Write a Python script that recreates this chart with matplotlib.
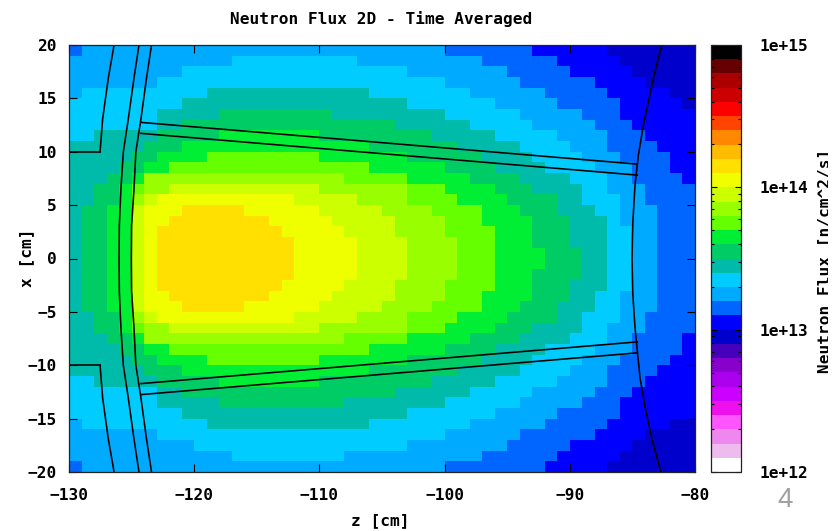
import numpy as np
import matplotlib
matplotlib.use("Agg")
import matplotlib.pyplot as plt
from matplotlib.colors import ListedColormap, LogNorm
from matplotlib.ticker import FixedLocator, LogLocator, NullFormatter
from matplotlib.transforms import Bbox

W, H = 838, 531
FONT = "DejaVu Sans Mono"
FS = 11.65

# --- colour bands, bottom (1e12) to top (1e15), 10 per decade ---
band_colors = [
    "#ffffff", "#eebbee", "#ee88ee", "#ff55ff", "#ee11ee", "#cc00ff", "#aa00ee", "#8800cc", "#4400bb", "#0000cc",
    "#0000ff", "#0066ff", "#00aaff", "#00ccff", "#00bbaa", "#00cc66", "#00ee33", "#66ff00", "#99ff00", "#ccff00",
    "#f0ff00", "#ffe000", "#ffbb00", "#ff8800", "#ff4400", "#ff0000", "#cc0000", "#aa0000", "#660000", "#000000",
]

# --- flux bands per row, x = 20 down to 0: (band, end column), 1 column = 1 cm in z ---
upper_runs = [
    [(11, 1), (12, 30), (11, 37), (10, 43), (9, 50)],
    [(12, 13), (13, 23), (12, 33), (11, 39), (10, 44), (9, 50)],
    [(12, 9), (13, 27), (12, 35), (11, 40), (10, 45), (9, 50)],
    [(12, 7), (13, 30), (12, 36), (11, 42), (10, 46), (9, 50)],
    [(12, 1), (13, 11), (14, 24), (13, 32), (12, 38), (11, 43), (10, 48), (9, 50)],
    [(13, 9), (14, 27), (13, 34), (12, 39), (11, 44), (10, 49), (9, 50)],
    [(13, 7), (14, 12), (15, 21), (14, 30), (13, 36), (12, 41), (11, 44), (10, 50)],
    [(13, 7), (14, 9), (15, 26), (14, 32), (13, 37), (12, 42), (11, 45), (10, 50)],
    [(13, 2), (14, 7), (15, 12), (16, 20), (15, 29), (14, 34), (13, 39), (12, 43), (11, 46), (10, 50)],
    [(14, 6), (15, 9), (16, 24), (15, 31), (14, 36), (13, 40), (12, 43), (11, 47), (10, 50)],
    [(14, 5), (15, 7), (16, 11), (17, 20), (16, 27), (15, 33), (14, 37), (13, 41), (12, 44), (11, 48), (10, 50)],
    [(14, 4), (15, 6), (16, 8), (17, 24), (16, 30), (15, 34), (14, 38), (13, 42), (12, 45), (11, 48), (10, 50)],
    [(14, 3), (15, 5), (16, 6), (18, 22), (17, 27), (16, 32), (15, 36), (14, 40), (13, 43), (12, 45), (11, 49), (10, 50)],
    [(14, 2), (15, 4), (16, 5), (17, 6), (18, 8), (19, 20), (18, 27), (17, 30), (16, 34), (15, 37), (14, 41), (13, 43), (12, 46), (11, 50)],
    [(14, 2), (15, 4), (16, 5), (18, 6), (19, 7), (20, 18), (19, 23), (18, 27), (17, 31), (16, 35), (15, 39), (14, 41), (13, 44), (12, 46), (11, 50)],
    [(14, 1), (15, 3), (16, 5), (19, 6), (20, 9), (21, 14), (20, 20), (19, 25), (18, 29), (17, 33), (16, 36), (15, 39), (14, 42), (13, 44), (12, 47), (11, 50)],
    [(14, 1), (15, 3), (16, 5), (19, 6), (20, 8), (21, 16), (20, 21), (19, 26), (18, 30), (17, 33), (16, 37), (15, 40), (14, 43), (13, 44), (12, 47), (11, 50)],
    [(14, 1), (15, 3), (16, 5), (19, 6), (20, 7), (21, 17), (20, 22), (19, 26), (18, 30), (17, 34), (16, 37), (15, 40), (14, 43), (13, 45), (12, 47), (11, 50)],
    [(14, 1), (15, 3), (16, 5), (19, 6), (20, 7), (21, 18), (20, 23), (19, 27), (18, 31), (17, 34), (16, 37), (15, 40), (14, 43), (13, 45), (12, 47), (11, 50)],
    [(14, 1), (15, 3), (16, 5), (19, 6), (20, 7), (21, 18), (20, 23), (19, 27), (18, 31), (17, 34), (16, 38), (15, 41), (14, 43), (13, 45), (12, 47), (11, 50)],
]

# x = 0 down to -20
lower_runs = [
    [(14, 1), (15, 3), (16, 5), (19, 6), (20, 7), (21, 18), (20, 23), (19, 27), (18, 31), (17, 34), (16, 38), (15, 41), (14, 43), (13, 45), (12, 47), (11, 50)],
    [(14, 1), (15, 3), (16, 5), (19, 6), (20, 7), (21, 18), (20, 23), (19, 27), (18, 31), (17, 34), (16, 37), (15, 41), (14, 43), (13, 45), (12, 47), (11, 50)],
    [(14, 1), (15, 3), (16, 5), (19, 6), (20, 7), (21, 17), (20, 22), (19, 26), (18, 30), (17, 34), (16, 37), (15, 40), (14, 43), (13, 45), (12, 47), (11, 50)],
    [(14, 1), (15, 3), (16, 5), (19, 6), (20, 8), (21, 16), (20, 21), (19, 26), (18, 30), (17, 33), (16, 37), (15, 40), (14, 42), (13, 44), (12, 47), (11, 50)],
    [(14, 1), (15, 3), (16, 5), (19, 6), (20, 9), (21, 14), (20, 20), (19, 25), (18, 29), (17, 33), (16, 36), (15, 39), (14, 42), (13, 44), (12, 47), (11, 50)],
    [(14, 2), (15, 4), (16, 5), (18, 6), (19, 7), (20, 18), (19, 23), (18, 27), (17, 31), (16, 35), (15, 39), (14, 41), (13, 44), (12, 46), (11, 50)],
    [(14, 2), (15, 4), (16, 5), (17, 6), (18, 8), (19, 20), (18, 27), (17, 30), (16, 34), (15, 37), (14, 41), (13, 43), (12, 46), (11, 50)],
    [(14, 3), (15, 5), (16, 6), (18, 22), (17, 27), (16, 32), (15, 36), (14, 40), (13, 43), (12, 45), (11, 49), (10, 50)],
    [(14, 4), (15, 6), (16, 8), (17, 24), (16, 30), (15, 34), (14, 38), (13, 42), (12, 45), (11, 49), (10, 50)],
    [(14, 5), (15, 7), (16, 11), (17, 20), (16, 27), (15, 33), (14, 37), (13, 41), (12, 44), (11, 48), (10, 50)],
    [(14, 6), (15, 9), (16, 24), (15, 31), (14, 36), (13, 40), (12, 43), (11, 47), (10, 50)],
    [(13, 2), (14, 7), (15, 12), (16, 20), (15, 29), (14, 34), (13, 39), (12, 43), (11, 46), (10, 50)],
    [(13, 7), (14, 9), (15, 26), (14, 32), (13, 37), (12, 42), (11, 45), (10, 50)],
    [(13, 7), (14, 12), (15, 22), (14, 30), (13, 36), (12, 41), (11, 44), (10, 50)],
    [(13, 9), (14, 27), (13, 34), (12, 39), (11, 44), (10, 50)],
    [(12, 1), (13, 11), (14, 24), (13, 32), (12, 38), (11, 43), (10, 48), (9, 50)],
    [(12, 7), (13, 30), (12, 36), (11, 42), (10, 46), (9, 50)],
    [(12, 10), (13, 27), (12, 35), (11, 40), (10, 45), (9, 50)],
    [(12, 13), (13, 22), (12, 33), (11, 39), (10, 44), (9, 50)],
    [(11, 1), (12, 30), (11, 38), (10, 43), (9, 50)],
]

# --- geometry outlines (z, x) in cm ---
arc_a_z = [-126.4, -126.86, -127.31, -127.52]
arc_a_x = [20, 16.9, 13.1, 10]
arc_b_z = [-124.41, -124.81, -125.26, -125.66, -125.85, -125.98, -126.0, -125.98, -125.85, -125.66, -125.26, -124.81, -124.41]
arc_b_x = [20, 16.9, 13.1, 10, 6.6, 3.1, 0, -3.1, -6.6, -10, -13.1, -16.9, -20]
arc_c_z = [-123.41, -123.81, -124.25, -124.66, -124.82, -125.0, -125.02, -125.0, -124.82, -124.66, -124.25, -123.81, -123.41]
arc_c_x = [20, 16.9, 13.1, 10, 6.3, 3.1, 0, -3.1, -6.3, -10, -13.1, -16.9, -20]
arc_end_z = [-82.66, -83.32, -84.12, -84.52, -84.79, -84.97, -85.03, -84.97, -84.79, -84.39, -83.97, -83.44, -82.72]
arc_end_x = [20, 16.9, 12.5, 9.7, 6.9, 3.3, 0, -3.3, -6.5, -11.2, -14, -16.9, -20]
taper_z = [-124.25, -84.61]
taper_outer_x = [12.75, 8.84]
taper_inner_x = [11.72, 7.81]
edge_z = [-130, -127.52]
edge_x = 10

z_ticks = [-130, -120, -110, -100, -90, -80]
x_ticks = [-20, -15, -10, -5, 0, 5, 10, 15, 20]
cbar_ticks = [1e12, 1e13, 1e14, 1e15]
cbar_labels = ["1e+12", "1e+13", "1e+14", "1e+15"]

# --- build grid, first row at x = -20 ---
rows = []
for run in lower_runs[::-1] + upper_runs[::-1]:
    bands = [b for b, _ in run]
    ends = [e for _, e in run]
    widths = np.diff([0] + ends)
    rows.append(np.repeat(bands, widths))
band_grid = np.array(rows)
flux = 1e12 * 10 ** ((band_grid + 0.5) / 10)

z_edges = np.arange(-130, -79)
x_edges = np.arange(-20, 21)

cmap = ListedColormap(band_colors)
norm = LogNorm(vmin=1e12, vmax=1e15)

fig = plt.figure(figsize=(W / 100, H / 100), dpi=100)
ax = fig.add_axes([69 / W, 1 - 472 / H, (695 - 69) / W, (472 - 45) / H])
mesh = ax.pcolormesh(z_edges, x_edges, flux, cmap=cmap, norm=norm, antialiased=False, linewidth=0)

# Geometry lines
line_kw = dict(color="black", lw=1.15, solid_joinstyle="miter")
for sign in (1, -1):
    ax.plot(arc_a_z, [sign * v for v in arc_a_x], **line_kw)
    ax.plot(edge_z, [sign * edge_x] * 2, **line_kw)
    ax.plot(taper_z, [sign * v for v in taper_outer_x], **line_kw)
    ax.plot(taper_z, [sign * v for v in taper_inner_x], **line_kw)
ax.plot(arc_b_z, arc_b_x, **line_kw)
ax.plot(arc_c_z, arc_c_x, **line_kw)
ax.plot(arc_end_z, arc_end_x, **line_kw)

ax.set_xlim(-130, -80)
ax.set_ylim(-20, 20)
ax.set_xticks(z_ticks)
ax.set_yticks(x_ticks)
ax.tick_params(direction="in", length=5.5, width=0.8, top=True, right=True, color="black")
ax.tick_params(axis="x", pad=11.5)
ax.tick_params(axis="y", pad=9)
for lab in ax.get_xticklabels() + ax.get_yticklabels():
    lab.set_fontfamily(FONT)
    lab.set_fontsize(FS)
    lab.set_fontweight("bold")
for s in ax.spines.values():
    s.set_linewidth(0.9)
    s.set_edgecolor("#222222")

# Colorbar
cax = fig.add_axes([710.5 / W, 1 - 472 / H, (741 - 710.5) / W, (472 - 45) / H])
cb = fig.colorbar(mesh, cax=cax)
cb.solids.set_antialiased(False)
cax.yaxis.set_major_locator(FixedLocator(cbar_ticks))
cax.set_yticklabels(cbar_labels, fontfamily=FONT, fontsize=FS, fontweight="bold")
cax.yaxis.set_minor_locator(LogLocator(base=10, subs=range(2, 10)))
cax.yaxis.set_minor_formatter(NullFormatter())
cax.tick_params(which="major", direction="in", length=4.5, width=0.8, left=True, right=True, pad=13)
cax.tick_params(which="minor", direction="in", length=2.2, width=0.8, left=True, right=True)
for s in cax.spines.values():
    s.set_linewidth(0.9)
    s.set_edgecolor("#222222")

# Text
txt = dict(fontfamily=FONT, fontsize=FS, fontweight="bold", color="black")
fig.text(381 / W, 1 - 19 / H, "Neutron Flux 2D - Time Averaged", ha="center", va="center", **txt)
fig.text(380 / W, 1 - 521 / H, "z [cm]", ha="center", va="center", **txt)
fig.text(27 / W, 1 - 258 / H, "x [cm]", ha="center", va="center", rotation=90, **txt)

# Side label runs off the slide in the original, so it is clipped at x = 828
side = fig.text(825 / W, 1 - 261 / H, "Neutron Flux [n/cm^2/s]", ha="center", va="center", rotation=90, **txt)
side.set_clip_box(Bbox([[0, 0], [828, H]]))
side.set_clip_on(True)

# Slide number
fig.text(785 / W, 1 - 500 / H, "4", ha="center", va="center", fontfamily="Liberation Sans", fontsize=20, color="#a0a0a0")

fig.savefig("out.png", dpi=100)
